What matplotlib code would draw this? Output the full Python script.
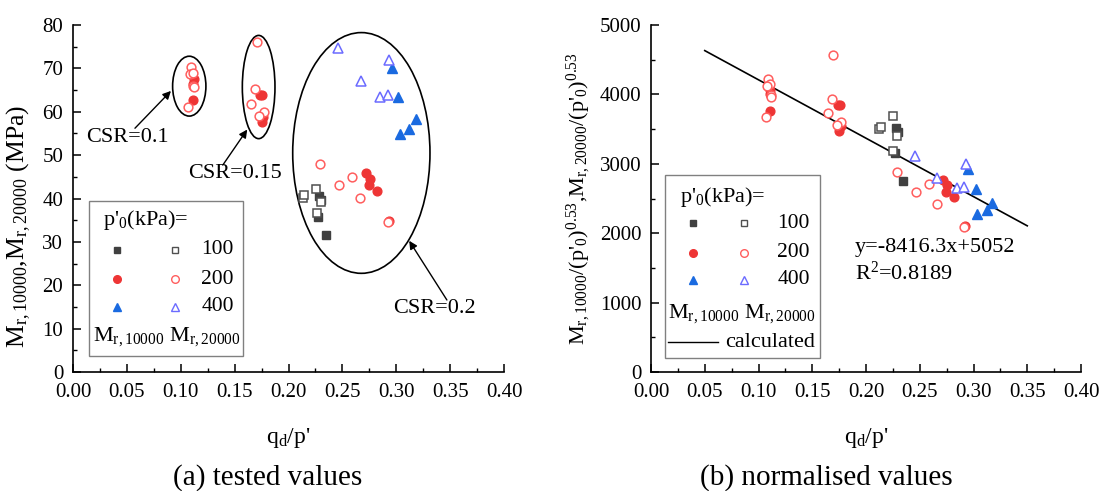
import matplotlib
matplotlib.use('Agg')
import matplotlib.pyplot as plt
from matplotlib.patches import Ellipse, Rectangle
from matplotlib.lines import Line2D
from matplotlib.ticker import MultipleLocator, FormatStrFormatter
import numpy as np

plt.rcParams['font.family'] = ['Liberation Serif', 'DejaVu Serif']
plt.rcParams['font.serif'] = ['Liberation Serif', 'DejaVu Serif']
plt.rcParams['mathtext.fontset'] = 'custom'
plt.rcParams['mathtext.rm'] = 'Liberation Serif'
plt.rcParams['mathtext.it'] = 'Liberation Serif:italic'
plt.rcParams['mathtext.bf'] = 'Liberation Serif:bold'

# ---------------- data: (a) tested values (MPa) ----------------
a_x_100_10000 = [0.2286, 0.2301, 0.2276, 0.2345]
a_y_100_10000 = [40.6, 39.7, 35.8, 31.6]
a_x_100_20000 = [0.2137, 0.2140, 0.2255, 0.2298, 0.2260]
a_y_100_20000 = [40.2, 40.7, 42.3, 39.2, 36.6]

a_x_200_10000 = [0.1123, 0.1117, 0.1110, 0.1735, 0.1754, 0.1750, 0.1766,
                 0.2720, 0.2760, 0.2750, 0.2820, 0.2930]
a_y_200_10000 = [67.5, 66.5, 62.7, 63.9, 63.9, 57.7, 58.7,
                 45.9, 44.6, 43.2, 41.8, 34.9]
a_x_200_20000 = [0.1095, 0.1086, 0.1117, 0.1117, 0.1120, 0.1070,
                 0.1705, 0.1690, 0.1650, 0.1770, 0.1730,
                 0.2290, 0.2590, 0.2470, 0.2660, 0.2920]
a_y_200_20000 = [70.3, 68.7, 69.0, 65.9, 65.6, 61.0,
                 76.0, 65.3, 61.9, 60.0, 59.1,
                 47.9, 45.0, 43.1, 40.2, 34.6]

a_x_400_10000 = [0.2957, 0.3020, 0.3180, 0.3120, 0.3035]
a_y_400_10000 = [70.0, 63.4, 58.3, 56.1, 54.8]
a_x_400_20000 = [0.2460, 0.2930, 0.2670, 0.2850, 0.2920]
a_y_400_20000 = [74.6, 71.9, 67.0, 63.4, 63.8]

# ---------------- data: (b) normalised values ----------------
b_x_100_10000 = [0.2279, 0.2301, 0.2270, 0.2347]
b_y_100_10000 = [3520, 3454, 3151, 2752]
b_x_100_20000 = [0.2248, 0.2124, 0.2137, 0.2291, 0.2254]
b_y_100_20000 = [3693, 3502, 3535, 3405, 3185]

b_x_200_10000 = [0.1110, 0.1107, 0.1107, 0.1742, 0.1755, 0.1749, 0.1765,
                 0.2719, 0.2751, 0.2741, 0.2819, 0.2921]
b_y_200_10000 = [4060, 4010, 3765, 3847, 3850, 3477, 3540,
                 2767, 2695, 2598, 2517, 2108]
b_x_200_20000 = [0.1091, 0.1107, 0.1082, 0.1113, 0.1113, 0.1067,
                 0.1690, 0.1687, 0.1644, 0.1767, 0.1727,
                 0.2291, 0.2589, 0.2465, 0.2658, 0.2914]
b_y_200_20000 = [4222, 4150, 4121, 3991, 3958, 3670,
                 4568, 3934, 3728, 3607, 3559,
                 2878, 2705, 2598, 2421, 2094]

b_x_400_10000 = [0.2952, 0.3020, 0.3175, 0.3123, 0.3030]
b_y_400_10000 = [2921, 2637, 2431, 2334, 2277]
b_x_400_20000 = [0.2456, 0.2930, 0.2663, 0.2844, 0.2915]
b_y_400_20000 = [3117, 2997, 2800, 2656, 2670]

fit_slope = -8416.3
fit_intercept = 5052
fit_x_range = [0.05, 0.35]
fit_eq_text = "y=-8416.3x+5052"
fit_r2_text = "R$^2$=0.8189"

pressures = ["100", "200", "400"]

# ---------------- styles ----------------
C_SQ_F, C_SQ_O = '#404040', '#505050'
C_CI_F, C_CI_O = '#EE3535', '#FF5E5E'
C_TR_F, C_TR_O = '#1A6AE0', '#6B6BFF'
SERIF = 'Liberation Serif'

W, H = 1103, 491
fig = plt.figure(figsize=(W / 100, H / 100), dpi=100)


def fx(px):
    return px / W


def fy(py):
    return 1 - py / H


axL = fig.add_axes([fx(73), fy(372), 431 / W, 347 / H])
axR = fig.add_axes([fx(651), fy(372), 430 / W, 347 / H])

TICK_FS = 15


def style_axes(ax, ymax, ymaj, ymin):
    ax.set_xlim(0, 0.40)
    ax.set_ylim(0, ymax)
    ax.xaxis.set_major_locator(MultipleLocator(0.05))
    ax.xaxis.set_minor_locator(MultipleLocator(0.025))
    ax.yaxis.set_major_locator(MultipleLocator(ymaj))
    ax.yaxis.set_minor_locator(MultipleLocator(ymin))
    ax.xaxis.set_major_formatter(FormatStrFormatter('%.2f'))
    ax.yaxis.set_major_formatter(FormatStrFormatter('%d'))
    for s in ['top', 'right']:
        ax.spines[s].set_visible(False)
    for s in ['left', 'bottom']:
        ax.spines[s].set_linewidth(1.2)
    ax.tick_params(which='major', direction='in', length=6, width=1.1,
                   labelsize=TICK_FS, labelfontfamily=SERIF)
    ax.tick_params(which='minor', direction='in', length=3, width=1.0)
    ax.tick_params(axis='y', pad=7)
    ax.tick_params(axis='x', pad=8)
    ax.set_xlabel("q$_\\mathrm{d}$/p'", fontsize=17, family=SERIF)
    ax.xaxis.set_label_coords(0.5, -0.155)


def plot_sets(ax, d):
    (x1f, y1f, x1o, y1o, x2f, y2f, x2o, y2o, x4f, y4f, x4o, y4o) = d
    ms_sq, ms_ci, ms_tr = 5.8, 6.3, 7.3
    ax.plot(x1f, y1f, ls='none', marker='s', ms=ms_sq, mfc=C_SQ_F, mec=C_SQ_F, zorder=3)
    ax.plot(x2f, y2f, ls='none', marker='o', ms=ms_ci, mfc=C_CI_F, mec=C_CI_F, zorder=3)
    ax.plot(x4f, y4f, ls='none', marker='^', ms=ms_tr, mfc=C_TR_F, mec=C_TR_F, zorder=3)
    ax.plot(x1o, y1o, ls='none', marker='s', ms=ms_sq, mfc='white', mec=C_SQ_O, mew=1.1, zorder=4)
    ax.plot(x2o, y2o, ls='none', marker='o', ms=ms_ci, mfc='white', mec=C_CI_O, mew=1.1, zorder=4)
    ax.plot(x4o, y4o, ls='none', marker='^', ms=ms_tr, mfc='white', mec=C_TR_O, mew=1.1, zorder=4)


# ---------------- panel (a) ----------------
style_axes(axL, 80, 10, 5)
axL.set_ylabel("M$_\\mathrm{r,10000}$,M$_\\mathrm{r,20000}$ (MPa)", fontsize=18.5, family=SERIF)
axL.yaxis.set_label_coords(-0.093, 0.42)
plot_sets(axL, (a_x_100_10000, a_y_100_10000, a_x_100_20000, a_y_100_20000,
                a_x_200_10000, a_y_200_10000, a_x_200_20000, a_y_200_20000,
                a_x_400_10000, a_y_400_10000, a_x_400_20000, a_y_400_20000))

for (cx, cy, w, h) in [(0.1079, 65.9, 0.0309, 13.8),
                       (0.1723, 65.7, 0.0303, 23.8),
                       (0.2676, 50.5, 0.1274, 55.5)]:
    axL.add_patch(Ellipse((cx, cy), w, h, fill=False, ec='black', lw=1.2, zorder=2))

arrow_kw = dict(arrowstyle='-|>', color='black', lw=1.0, mutation_scale=12,
                shrinkA=0, shrinkB=0)
axL.annotate('', xy=(0.0909, 64.8), xytext=(0.0575, 56.2), arrowprops=arrow_kw)
axL.annotate('', xy=(0.1617, 55.9), xytext=(0.139, 47.7), arrowprops=arrow_kw)
axL.annotate('', xy=(0.312, 30.25), xytext=(0.347, 16.6), arrowprops=arrow_kw)
axL.text(0.012, 54.0, "CSR=0.1", fontsize=16, ha='left', va='center', family=SERIF)
axL.text(0.1067, 45.7, "CSR=0.15", fontsize=16, ha='left', va='center', family=SERIF)
axL.text(0.297, 14.6, "CSR=0.2", fontsize=16, ha='left', va='center', family=SERIF)

# ---------------- panel (b) ----------------
style_axes(axR, 5000, 1000, 500)
axR.set_ylabel("M$_\\mathrm{r,10000}$/(p'$_\\mathrm{0}$)$^\\mathrm{0.53}$,"
               "M$_\\mathrm{r,20000}$/(p'$_\\mathrm{0}$)$^\\mathrm{0.53}$", fontsize=16,
               family=SERIF)
axR.yaxis.set_label_coords(-0.135, 0.50)
plot_sets(axR, (b_x_100_10000, b_y_100_10000, b_x_100_20000, b_y_100_20000,
                b_x_200_10000, b_y_200_10000, b_x_200_20000, b_y_200_20000,
                b_x_400_10000, b_y_400_10000, b_x_400_20000, b_y_400_20000))
fx_line = np.array(fit_x_range)
axR.plot(fx_line, fit_slope * fx_line + fit_intercept, color='black', lw=1.2, zorder=2)
axR.text(0.1898, 1801, fit_eq_text, fontsize=16, ha='left', va='center', family=SERIF)
axR.text(0.1898, 1427, fit_r2_text, fontsize=16, ha='left', va='center', family=SERIF)


# ---------------- legends (drawn in figure pixels) ----------------
def legend(box, title_xy, rows_y, mk_x, txt_r, m_xy, calc=None):
    x0, y0, x1, y1 = box
    fig.add_artist(Rectangle((fx(x0), fy(y1)), (x1 - x0) / W, (y1 - y0) / H,
                             transform=fig.transFigure, fc='white', ec='#808080',
                             lw=1.0, zorder=5))
    fig.text(fx(title_xy[0]), fy(title_xy[1]), "p'$_\\mathrm{0}$(kPa)=",
             fontsize=16, ha='left', va='center', zorder=6, family=SERIF)
    specs = [('s', C_SQ_F, C_SQ_O, 5.0), ('o', C_CI_F, C_CI_O, 5.5),
             ('^', C_TR_F, C_TR_O, 6.0)]
    for (mk, cf, co, ms), yy, lab in zip(specs, rows_y, pressures):
        fig.add_artist(Line2D([fx(mk_x[0])], [fy(yy)], transform=fig.transFigure,
                              ls='none', marker=mk, ms=ms, mfc=cf, mec=cf, zorder=6))
        fig.add_artist(Line2D([fx(mk_x[1])], [fy(yy)], transform=fig.transFigure,
                              ls='none', marker=mk, ms=ms, mfc='white', mec=co,
                              mew=1.0, zorder=6))
        fig.text(fx(txt_r), fy(yy), lab, fontsize=15.5, ha='right', va='center',
                 zorder=6, family=SERIF)
    fig.text(fx(m_xy[0]), fy(m_xy[1]), "M$_\\mathrm{r,10000}$ M$_\\mathrm{r,20000}$",
             fontsize=16, ha='left', va='center', zorder=6, family=SERIF)
    if calc is not None:
        lx0, lx1, ly, tx = calc
        fig.add_artist(Line2D([fx(lx0), fx(lx1)], [fy(ly), fy(ly)],
                              transform=fig.transFigure, color='black', lw=1.0, zorder=6))
        fig.text(fx(tx), fy(ly), "calculated", fontsize=16, ha='left', va='center',
                 zorder=6, family=SERIF)


legend((89.3, 200.7, 242.7, 355.7), (103.3, 220), (250, 279, 306.7),
       (117.3, 175), 234, (92.7, 337))
legend((665, 175, 820, 358), (680, 196.7), (223.3, 252.7, 280),
       (693.3, 744), 810, (668, 313.3), calc=(668, 718, 342.3, 725))

# ---------------- captions ----------------
fig.text(fx(267.5), fy(478), "(a) tested values", fontsize=21, ha='center', va='center',
         family=SERIF)
fig.text(fx(826), fy(478), "(b) normalised values", fontsize=21, ha='center', va='center',
         family=SERIF)

fig.savefig('out.png', dpi=100)
